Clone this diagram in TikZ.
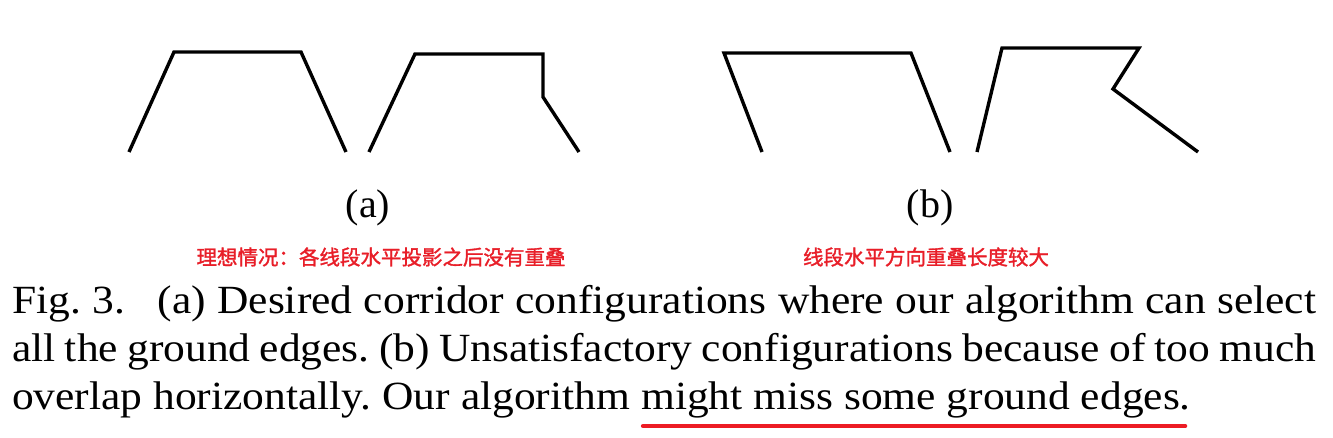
\documentclass[tikz,border=0pt]{standalone}
\usepackage{fontspec}
\setmainfont{Liberation Serif}
\newfontfamily\cjk[FakeBold=1.5]{Noto Sans CJK SC}
\definecolor{capred}{RGB}{232,30,40}
\definecolor{ulred}{RGB}{237,28,36}
\newcommand{\wide}[1]{\scalebox{1.087}[1]{\frenchspacing #1}}
\begin{document}
\begin{tikzpicture}[x=1pt,y=-1pt,
  corridor/.style={line width=3.4pt, black},
  captext/.style={inner sep=0pt, anchor=base west, font=\fontsize{40}{48}\selectfont},
  note/.style={inner sep=0pt, text=capred, font=\cjk\fontsize{20.5}{24}\selectfont},
  lbl/.style={inner sep=0pt, anchor=base, font=\fontsize{40}{48}\selectfont},
  uline/.style={line width=4.5pt, ulred, line cap=round}]
\useasboundingbox (0,0) rectangle (1333,438);
% (a) corridors
\draw[corridor] (129,152) -- (174,52) -- (301,52) -- (346,152);
\draw[corridor] (369,152) -- (415,54) -- (543,54) -- (543,97) -- (579,152);
% (b) corridors
\draw[corridor] (762,152) -- (724,53) -- (911,53) -- (950,152);
\draw[corridor] (977,152) -- (1002,48) -- (1139,48) -- (1113,89) -- (1198,152);
% labels
\node[lbl] (la) at (368,218) {(a)};
\node[lbl] (lb) at (930,218) {(b)};
\node[note] (na) at (381,257) {理想情况：各线段水平投影之后没有重叠};
\node[note] (nb) at (926,257) {线段水平方向重叠长度较大};
% caption
\node[captext] (l1) at (12,313) {\wide{\makebox[1199.6pt][s]{Fig.~3.\hspace{0.75em}(a) Desired corridor configurations where our algorithm can select}}};
\node[captext] (l2) at (12,361) {\wide{\makebox[1199.6pt][s]{all the ground edges. (b) Unsatisfactory configurations because of too much}}};
\node[captext] (l3a) at (12,409) {\wide{overlap horizontally. Our algorithm}};
\node[captext] (l3b) at ([xshift=10.9pt]l3a.base east) {\wide{might miss some ground edges.}};
\draw[uline] ([xshift=2pt,yshift=-17pt]l3b.base west) -- ([xshift=-6pt,yshift=-17pt]l3b.base east);
\end{tikzpicture}
\end{document}
